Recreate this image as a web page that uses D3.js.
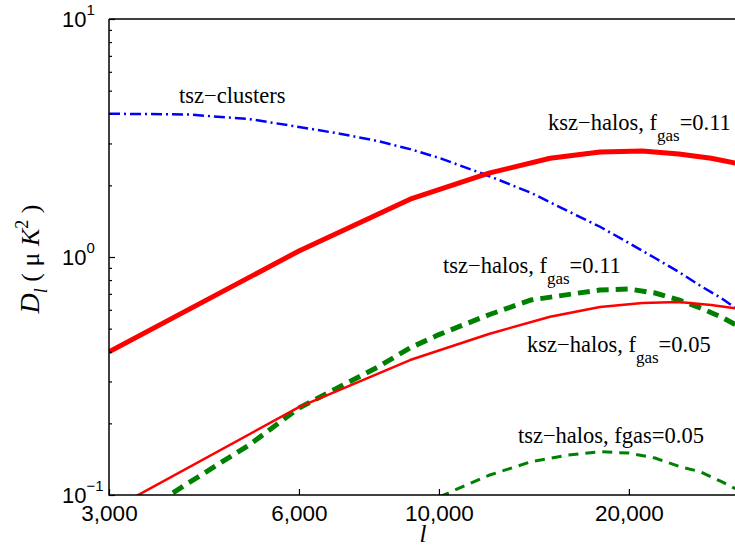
<!DOCTYPE html>
<html><head><meta charset="utf-8">
<script src="https://cdn.jsdelivr.net/npm/d3@7"></script>
<style>body{margin:0;background:#fff;} svg{display:block;}</style>
</head><body>
<svg id="chart" width="735" height="546"></svg>
<script>
// multipole grids
const ellCoarse = [3000,6000,9000,12000,15000,18000,21000,24000,27000,30000];
const ellFine = [3000,4000,5000,6000,7000,8000,9000,10000,12000,14000,16000,18000,20000,22000,24000,26000,28000,30000];
const ellTail = [8000,9000,10000,12000,14000,16000,18000,20000,22000,24000,26000,28000,30000];

// D_l in micro-K^2
const tszClusters = [4.00,3.97,3.80,3.52,3.29,3.07,2.84,2.61,2.19,1.86,1.56,1.34,1.145,0.99,0.865,0.755,0.673,0.593];
const kszHalos011 = [0.40,1.06,1.75,2.25,2.60,2.76,2.79,2.71,2.60,2.46];
const tszHalos011 = [0.0686,0.112,0.162,0.232,0.287,0.345,0.415,0.472,0.572,0.660,0.695,0.727,0.734,0.706,0.660,0.610,0.560,0.508];
const kszHalos005 = [0.0857,0.234,0.369,0.475,0.561,0.616,0.641,0.647,0.629,0.605];
const tszHalos005 = [0.0748,0.0866,0.098,0.121,0.138,0.147,0.152,0.150,0.143,0.132,0.125,0.114,0.104];

// axis ticks
const xTickValues = [3000,6000,10000,20000];
const yMajorTicks = [0.1,1,10];
const yTickExponents = ["\u22121","0","1"];
const yMinorTicks = [0.2,0.3,0.4,0.5,0.6,0.7,0.8,0.9,2,3,4,5,6,7,8,9];

// curve annotations: [l, D_l, main text, subscript, trailing text]
const annoLabels = [
  [3873, 4.44, "tsz\u2212clusters", "", ""],
  [14890, 3.42, "ksz\u2212halos, f", "gas", "=0.11"],
  [10150, 0.857, "tsz\u2212halos, f", "gas", "=0.11"],
  [13790, 0.399, "ksz\u2212halos, f", "gas", "=0.05"],
  [13340, 0.1654, "tsz\u2212halos, fgas=0.05", "", ""]
];

const svg = d3.select("#chart");
const plotL = 109, plotR = 740, plotT = 19, plotB = 495;

const x = d3.scaleLog().domain([3000, 30000]).range([plotL, plotR]);
const y = d3.scaleLog().domain([0.1, 10]).range([plotB, plotT]);

svg.append("defs").append("clipPath").attr("id", "plotClip")
  .append("rect").attr("x", plotL).attr("y", plotT)
  .attr("width", plotR - plotL).attr("height", plotB - plotT);

const line = d3.line().x(d => x(d[0])).y(d => y(d[1]));
const zip = (ls, vs) => ls.map((l, i) => [l, vs[i]]);

const series = [
  {data: zip(ellFine, tszClusters), color: "#0000ff", width: 2.5, dash: "11,4,2,4"},
  {data: zip(ellCoarse, kszHalos011), color: "#ff0000", width: 5, dash: null},
  {data: zip(ellFine, tszHalos011), color: "#008000", width: 5, dash: "12,7"},
  {data: zip(ellCoarse, kszHalos005), color: "#ff0000", width: 2.5, dash: null},
  {data: zip(ellTail, tszHalos005), color: "#008000", width: 3, dash: "10,7"}
];

const plot = svg.append("g").attr("clip-path", "url(#plotClip)");
series.forEach(s => {
  plot.append("path").datum(s.data)
    .attr("d", line)
    .attr("fill", "none")
    .attr("stroke", s.color)
    .attr("stroke-width", s.width)
    .attr("stroke-dasharray", s.dash)
    .attr("stroke-linejoin", "round");
});

// frame
const frame = svg.append("g").attr("stroke", "#000").attr("stroke-width", 1.5).attr("fill", "none");
frame.append("path").attr("d", `M${plotL},${plotT}H${plotR}`);
frame.append("path").attr("d", `M${plotL},${plotT}V${plotB}H${plotR}`);

// x axis ticks (inward) and labels
const xAxis = svg.append("g").attr("transform", `translate(0,${plotB})`)
  .call(d3.axisBottom(x).tickValues(xTickValues).tickSizeInner(-6).tickSizeOuter(0).tickFormat(d3.format(",")));
xAxis.select(".domain").remove();
xAxis.selectAll(".tick line").attr("stroke", "#000").attr("stroke-width", 1.2);
xAxis.selectAll(".tick text")
  .attr("y", 26).attr("dy", 0)
  .attr("font-family", "'Liberation Sans', Arial, sans-serif")
  .attr("font-size", 22.5).attr("fill", "#000");

// y axis ticks (inward)
const yMaj = svg.append("g").attr("transform", `translate(${plotL},0)`)
  .call(d3.axisLeft(y).tickValues(yMajorTicks).tickSizeInner(-6).tickSizeOuter(0).tickFormat(""));
const yMin = svg.append("g").attr("transform", `translate(${plotL},0)`)
  .call(d3.axisLeft(y).tickValues(yMinorTicks).tickSizeInner(-3).tickSizeOuter(0).tickFormat(""));
[yMaj, yMin].forEach(g => {
  g.select(".domain").remove();
  g.selectAll(".tick line").attr("stroke", "#000").attr("stroke-width", 1.2);
});

// y tick labels: 10^n
const yLab = svg.append("g")
  .attr("font-family", "'Liberation Sans', Arial, sans-serif")
  .attr("fill", "#000");
yMajorTicks.forEach((v, i) => {
  const t = yLab.append("text").attr("x", 62).attr("y", y(v) + 8).attr("font-size", 22);
  t.append("tspan").text("10");
  t.append("tspan").attr("dy", -12).attr("font-size", 15).text(yTickExponents[i]);
});

// axis titles
svg.append("text")
  .attr("x", 423).attr("y", 542)
  .attr("text-anchor", "middle")
  .attr("font-family", "'Liberation Serif', 'Times New Roman', serif")
  .attr("font-style", "italic")
  .attr("font-size", 25)
  .text("l");

const yt = svg.append("text")
  .attr("transform", "translate(39,259) rotate(-90)")
  .attr("text-anchor", "middle")
  .attr("font-family", "'Liberation Serif', 'Times New Roman', serif")
  .attr("font-size", 26);
yt.append("tspan").attr("font-style", "italic").attr("font-size", 28).text("D");
yt.append("tspan").attr("font-style", "italic").attr("font-size", 18).attr("dy", 8).text("l");
yt.append("tspan").attr("dy", -8).text(" ( \u03bc ");
yt.append("tspan").attr("font-style", "italic").text("K");
yt.append("tspan").attr("font-size", 18).attr("dy", -11).text("2");
yt.append("tspan").attr("dy", 11).text(" )");

// curve annotations
const anno = svg.append("g")
  .attr("font-family", "'Liberation Serif', 'Times New Roman', serif")
  .attr("font-size", 22.5).attr("fill", "#000");
annoLabels.forEach(a => {
  const t = anno.append("text").attr("x", x(a[0])).attr("y", y(a[1]));
  t.append("tspan").text(a[2]);
  if (a[3]) {
    t.append("tspan").attr("dy", 11).attr("font-size", 17).text(a[3]);
    t.append("tspan").attr("dy", -11).text(a[4]);
  }
});
</script>
</body></html>
